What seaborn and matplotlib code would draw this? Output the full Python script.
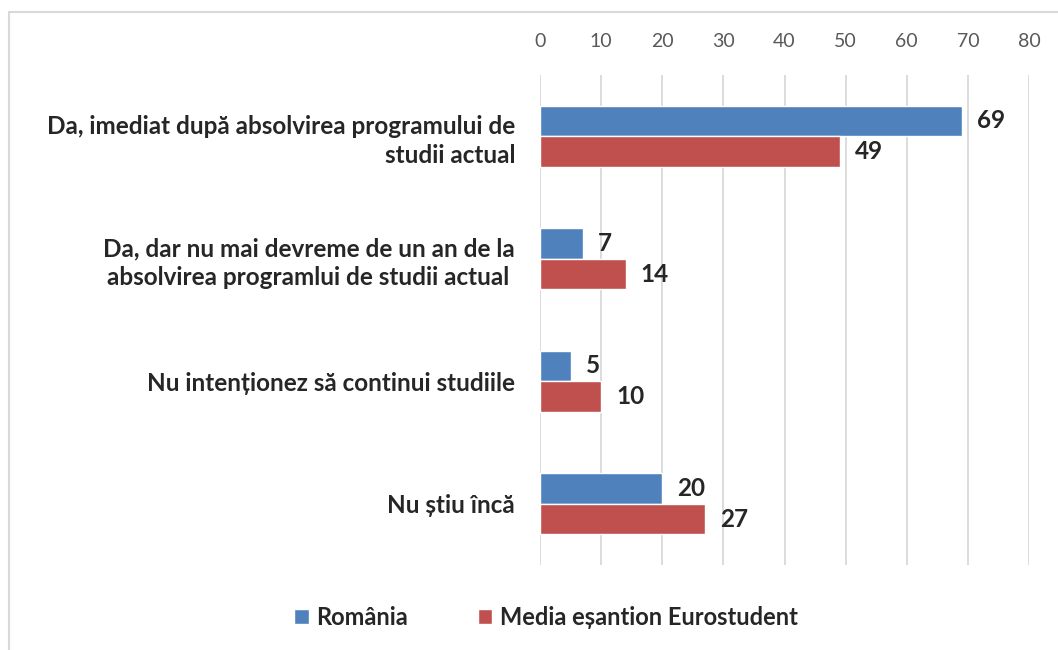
import pandas as pd
import seaborn as sns
import matplotlib.pyplot as plt
from matplotlib.patches import Rectangle

# Answer categories
categories = [
    "Da, imediat după absolvirea programului de\nstudii actual",
    "Da, dar nu mai devreme de un an de la\nabsolvirea programlui de studii actual ",
    "Nu intenționez să continui studiile",
    "Nu știu încă",
]

# Percentages per series
romania = [69, 7, 5, 20]
eurostudent = [49, 14, 10, 27]
series = ["România", "Media eșantion Eurostudent"]

data = pd.DataFrame({
    "Categorie": categories * 2,
    "Serie": [series[0]] * 4 + [series[1]] * 4,
    "Valoare": romania + eurostudent,
})

sns.set_style("white")
plt.rcParams["font.family"] = ["Lato", "DejaVu Sans"]

fig = plt.figure(figsize=(10.58, 6.5), dpi=100)
ax = fig.add_axes([0.5104, 0.1308, 0.4622, 0.7538])

sns.barplot(data=data, y="Categorie", x="Valoare", hue="Serie", orient="h",
            palette=["#4f81bd", "#c0504d"], width=0.5, saturation=1, ax=ax)

ax.set_xlim(0, 80)
ax.set_xticks(range(0, 81, 10))
ax.xaxis.tick_top()
ax.tick_params(axis="x", length=0, pad=18, labelsize=14, labelcolor="#595959")
ax.tick_params(axis="y", length=0, pad=18, labelsize=17.5)
for lbl in ax.get_yticklabels():
    lbl.set_fontweight("bold")
    lbl.set_linespacing(1.3)
ax.set_xlabel("")
ax.set_ylabel("")
ax.grid(axis="x", color="#d9d9d9", linewidth=1.3)
ax.set_axisbelow(True)
for s in ax.spines.values():
    s.set_visible(False)

for cont in ax.containers:
    ax.bar_label(cont, padding=11, fontsize=17.5, fontweight="bold")

ax.legend(loc="center", bbox_to_anchor=(0.516, 0.05), bbox_transform=fig.transFigure,
          ncol=2, frameon=False, prop={"weight": "bold", "size": 17},
          handlelength=0.6, handleheight=0.6, handletextpad=0.3, columnspacing=3)

fig.patches.append(Rectangle((9 / 1058, -0.1), 1.2, 1 - 12 / 650 + 0.1,
                             transform=fig.transFigure, fill=False,
                             edgecolor="#d9d9d9", linewidth=1.5))

fig.savefig("out.png", dpi=100)
